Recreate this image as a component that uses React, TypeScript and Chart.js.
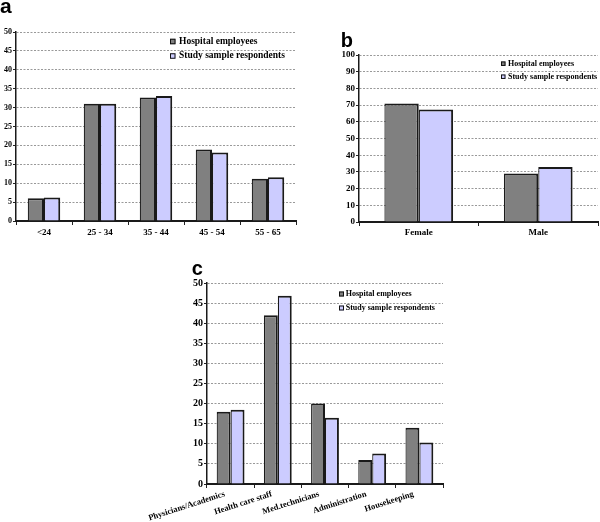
import React, { useEffect, useRef } from "react";
import { Chart, registerables } from "chart.js";
Chart.register(...registerables);

const seriesNames = ["Hospital employees", "Study sample respondents"];
const seriesColors = ["#808080", "#ccccff"];

const ageCategories = ["<24", "25 - 34", "35 - 44", "45 - 54", "55 - 65"];
const ageHospital = [6, 31, 32.7, 18.9, 11.2];
const ageStudy = [6.2, 31, 33.1, 18.1, 11.6];

const genderCategories = ["Female", "Male"];
const genderHospital = [71, 29];
const genderStudy = [67.3, 33];

const jobCategories = ["Physicians/Academics", "Health care staff", "Med.technicians", "Administration", "Housekeeping"];
const jobHospital = [18, 42, 20, 6, 14];
const jobStudy = [18.5, 46.8, 16.5, 7.6, 10.3];

const SERIF = '"Liberation Serif", "Times New Roman", serif';
const SANS = '"Liberation Sans", Arial, sans-serif';

const decor = {
  id: "decor",
  afterDraw(chart: any, _args: any, opts: any) {
    const ctx = chart.ctx;
    ctx.save();
    ctx.font = `bold ${opts.labelSize}px ${SANS}`;
    ctx.fillStyle = "#000";
    ctx.textBaseline = "alphabetic";
    ctx.textAlign = "left";
    ctx.fillText(opts.label, opts.labelX, opts.labelY);
    chart.data.datasets.forEach((ds: any, i: number) => {
      const y = opts.legendY + i * opts.legendGap;
      const s = opts.box;
      ctx.fillStyle = ds.backgroundColor;
      ctx.fillRect(opts.legendX, y - s / 2, s, s);
      ctx.strokeStyle = "#111";
      ctx.lineWidth = 1;
      ctx.strokeRect(opts.legendX + 0.5, y - s / 2 + 0.5, s - 1, s - 1);
      ctx.font = `bold ${opts.fontSize}px ${SERIF}`;
      ctx.fillStyle = "#000";
      ctx.textBaseline = "middle";
      ctx.fillText(ds.label, opts.textX, y);
    });
    ctx.restore();
  },
};

type PanelProps = {
  left: number;
  top: number;
  width: number;
  height: number;
  categories: string[];
  hospital: number[];
  study: number[];
  yMax: number;
  yStep: number;
  padding: any;
  yWidth: number;
  xHeight: number;
  catPct: number;
  yFont: number;
  xFont: number;
  xRotation: number;
  xLabelOffset: number;
  xPad: number;
  decorOpts: any;
};

function Panel(p: PanelProps) {
  const ref = useRef<HTMLCanvasElement | null>(null);
  useEffect(() => {
    if (!ref.current) return;
    const bw = { top: 2, right: 2, left: 1.2, bottom: 0 };
    const chart = new Chart(ref.current, {
      type: "bar",
      data: {
        labels: p.categories,
        datasets: [
          {
            label: seriesNames[0],
            data: p.hospital,
            backgroundColor: seriesColors[0],
            borderColor: "#1a1a1a",
            borderWidth: bw,
            borderSkipped: false,
            categoryPercentage: p.catPct,
            barPercentage: 1,
          },
          {
            label: seriesNames[1],
            data: p.study,
            backgroundColor: seriesColors[1],
            borderColor: "#1a1a1a",
            borderWidth: bw,
            borderSkipped: false,
            categoryPercentage: p.catPct,
            barPercentage: 1,
          },
        ],
      },
      options: {
        responsive: false,
        animation: false,
        devicePixelRatio: 1,
        layout: { padding: p.padding },
        plugins: {
          legend: { display: false },
          tooltip: { enabled: false },
          decor: p.decorOpts,
        } as any,
        scales: {
          x: {
            afterFit: (s: any) => {
              s.height = p.xHeight;
            },
            grid: {
              display: true,
              drawOnChartArea: false,
              drawTicks: true,
              tickLength: 4,
              color: "#222",
              tickColor: "#222",
              offset: true,
            },
            border: { display: true, color: "#1a1a1a", width: 2 },
            ticks: {
              autoSkip: false,
              maxRotation: p.xRotation,
              minRotation: p.xRotation,
              labelOffset: p.xLabelOffset,
              padding: p.xPad,
              color: "#000",
              font: { family: SERIF, size: p.xFont, weight: "bold" },
            },
          },
          y: {
            min: 0,
            max: p.yMax,
            afterFit: (s: any) => {
              s.width = p.yWidth;
            },
            grid: {
              color: "#999999",
              tickColor: "#222",
              tickLength: 3,
              lineWidth: 1,
            },
            border: { display: true, color: "#1a1a1a", width: 1.5, dash: [2, 1.5] },
            ticks: {
              stepSize: p.yStep,
              padding: 1,
              color: "#000",
              font: { family: SERIF, size: p.yFont, weight: "bold" },
            },
          },
        },
      } as any,
      plugins: [decor as any],
    });
    return () => chart.destroy();
  }, []);
  return (
    <canvas
      ref={ref}
      width={p.width}
      height={p.height}
      style={{ position: "absolute", left: p.left, top: p.top, width: p.width, height: p.height }}
    />
  );
}

export default function App() {
  return (
    <div style={{ position: "absolute", left: 0, top: 0, width: 600, height: 522, background: "#fff", overflow: "hidden" }}>
      <Panel
        left={0}
        top={0}
        width={300}
        height={245}
        categories={ageCategories}
        hospital={ageHospital}
        study={ageStudy}
        yMax={50}
        yStep={5}
        padding={{ top: 32, left: 0, right: 4, bottom: 0 }}
        yWidth={16}
        xHeight={24}
        catPct={0.58}
        yFont={8}
        xFont={9}
        xRotation={0}
        xLabelOffset={0}
        xPad={2}
        decorOpts={{ label: "a", labelX: 0, labelY: 13, labelSize: 21, legendX: 170, legendY: 41.5, legendGap: 14.5, box: 5.5, textX: 179, fontSize: 9.5 }}
      />
      <Panel
        left={300}
        top={30}
        width={300}
        height={215}
        categories={genderCategories}
        hospital={genderHospital}
        study={genderStudy}
        yMax={100}
        yStep={10}
        padding={{ top: 25, left: 40, right: 2, bottom: 0 }}
        yWidth={19}
        xHeight={23}
        catPct={0.575}
        yFont={9}
        xFont={9}
        xRotation={0}
        xLabelOffset={0}
        xPad={1}
        decorOpts={{ label: "b", labelX: 40.7, labelY: 16.7, labelSize: 20, legendX: 201, legendY: 33.7, legendGap: 13, box: 4.5, textX: 208, fontSize: 8 }}
      />
      <Panel
        left={140}
        top={260}
        width={320}
        height={262}
        categories={jobCategories}
        hospital={jobHospital}
        study={jobStudy}
        yMax={50}
        yStep={5}
        padding={{ top: 23, left: 48, right: 17, bottom: 0 }}
        yWidth={19}
        xHeight={38}
        catPct={0.59}
        yFont={10}
        xFont={8.5}
        xRotation={18}
        xLabelOffset={-6}
        xPad={1}
        decorOpts={{ label: "c", labelX: 51.7, labelY: 15, labelSize: 20, legendX: 199, legendY: 34, legendGap: 14, box: 5, textX: 205.7, fontSize: 8 }}
      />
    </div>
  );
}
